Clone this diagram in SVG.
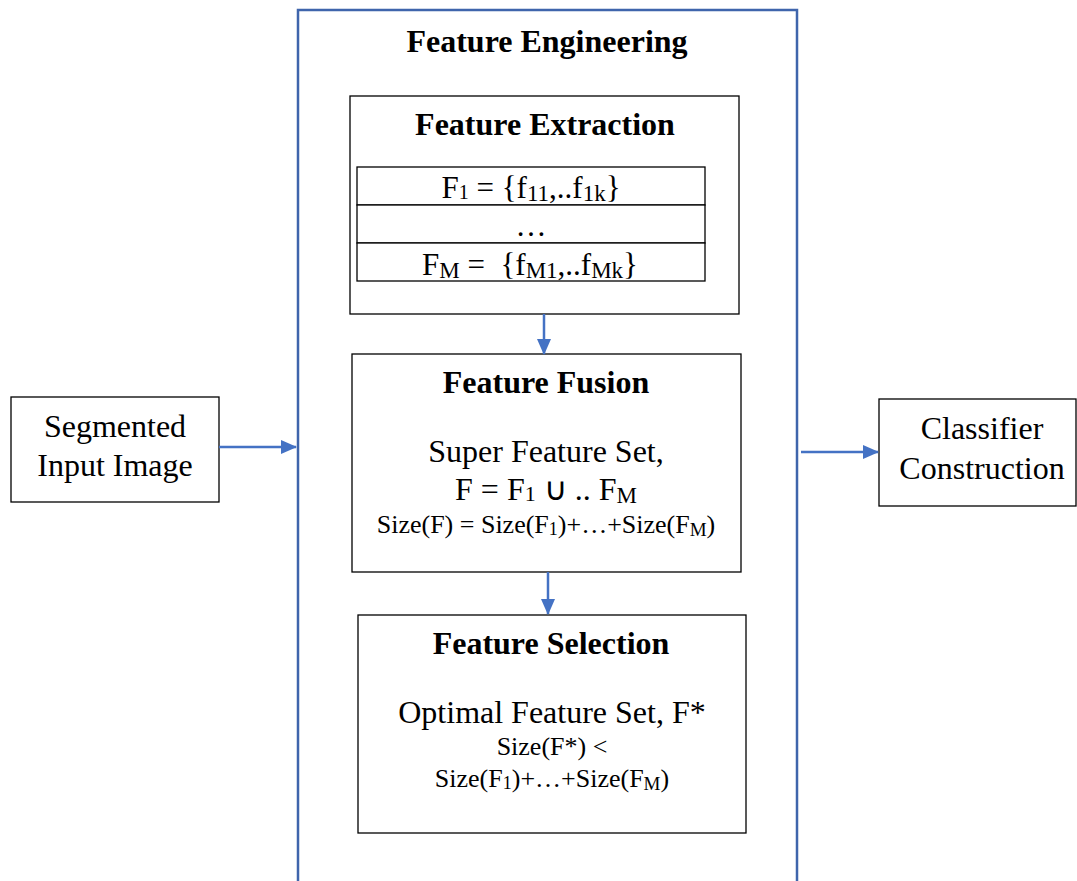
<svg xmlns="http://www.w3.org/2000/svg" width="1077" height="881" viewBox="0 0 1077 881">
<defs>
<style>
.box{fill:#fff;stroke:#000;stroke-width:1.3}
.outer{fill:#fff;stroke:#3F65AC;stroke-width:2.5}
text{font-family:"Liberation Serif","Times New Roman",serif;fill:#000;text-anchor:middle}
.h{font-weight:bold;font-size:32px}
.t{font-size:32px}
.m{font-size:31px}
.s{font-size:26px}
.con{stroke:#4472C4;stroke-width:2.5;fill:none}
</style>
<marker id="ahs" markerWidth="16" markerHeight="14" refX="15" refY="7" orient="auto" markerUnits="userSpaceOnUse" viewBox="0 0 16 14">
<path d="M0,0 L16,7 L0,14 z" fill="#4472C4"/>
</marker>
</defs>
<g id="feature-engineering">
<rect class="outer" x="298" y="10" width="499" height="890"/>
<text class="h" x="547" y="52">Feature Engineering</text>
</g>
<g id="feature-extraction">
<rect class="box" x="350" y="96" width="389" height="218"/>
<text class="h" x="545" y="135">Feature Extraction</text>
<rect class="box" x="357" y="167" width="348" height="38"/>
<rect class="box" x="357" y="205" width="348" height="38"/>
<rect class="box" x="357" y="243" width="348" height="38"/>
<text class="m" x="531" y="198">F<tspan font-size="20" dy="1">1</tspan><tspan dy="-1"> = {f</tspan><tspan font-size="23" dy="3">11</tspan><tspan dy="-3">,..f</tspan><tspan font-size="23" dy="3">1k</tspan><tspan dy="-3">}</tspan></text>
<text class="m" x="531" y="236">…</text>
<text class="m" x="530" y="275">F<tspan font-size="23" dy="3">M</tspan><tspan dy="-3"> =&#160; {f</tspan><tspan font-size="23" dy="3">M1</tspan><tspan dy="-3">,..f</tspan><tspan font-size="23" dy="3">Mk</tspan><tspan dy="-3">}</tspan></text>
</g>
<g id="feature-fusion">
<rect class="box" x="352" y="354" width="389" height="218"/>
<text class="h" x="546" y="393">Feature Fusion</text>
<text class="t" x="546" y="462">Super Feature Set,</text>
<text class="t" x="546" y="500">F = F<tspan font-size="22" dy="1">1</tspan><tspan dy="-1"> ∪ .. F</tspan><tspan font-size="23" dy="3">M</tspan></text>
<text class="s" x="546" y="533">Size(F) = Size(F<tspan font-size="18" dy="2">1</tspan><tspan dy="-2">)+…+Size(F</tspan><tspan font-size="19" dy="3">M</tspan><tspan dy="-3">)</tspan></text>
</g>
<g id="feature-selection">
<rect class="box" x="358" y="615" width="388" height="218"/>
<text class="h" x="551" y="654">Feature Selection</text>
<text class="t" x="552" y="723">Optimal Feature Set, F*</text>
<text class="s" x="552" y="755">Size(F*) &lt;</text>
<text class="s" x="552" y="787">Size(F<tspan font-size="18" dy="2">1</tspan><tspan dy="-2">)+…+Size(F</tspan><tspan font-size="19" dy="3">M</tspan><tspan dy="-3">)</tspan></text>
</g>
<g id="segmented-input">
<rect class="box" x="11" y="397" width="208" height="105"/>
<text class="t" x="115" y="437">Segmented</text>
<text class="t" x="115" y="476">Input Image</text>
</g>
<g id="classifier">
<rect class="box" x="879" y="399" width="197" height="107"/>
<text class="t" x="982" y="439">Classifier</text>
<text class="t" x="982" y="479">Construction</text>
</g>
<g id="connectors">
<line class="con" x1="219" y1="447" x2="296" y2="447" marker-end="url(#ahs)"/>
<line class="con" x1="801" y1="452" x2="878" y2="452" marker-end="url(#ahs)"/>
<line class="con" x1="544" y1="314" x2="544" y2="354" marker-end="url(#ahs)"/>
<line class="con" x1="548" y1="572" x2="548" y2="614" marker-end="url(#ahs)"/>
</g>
</svg>
